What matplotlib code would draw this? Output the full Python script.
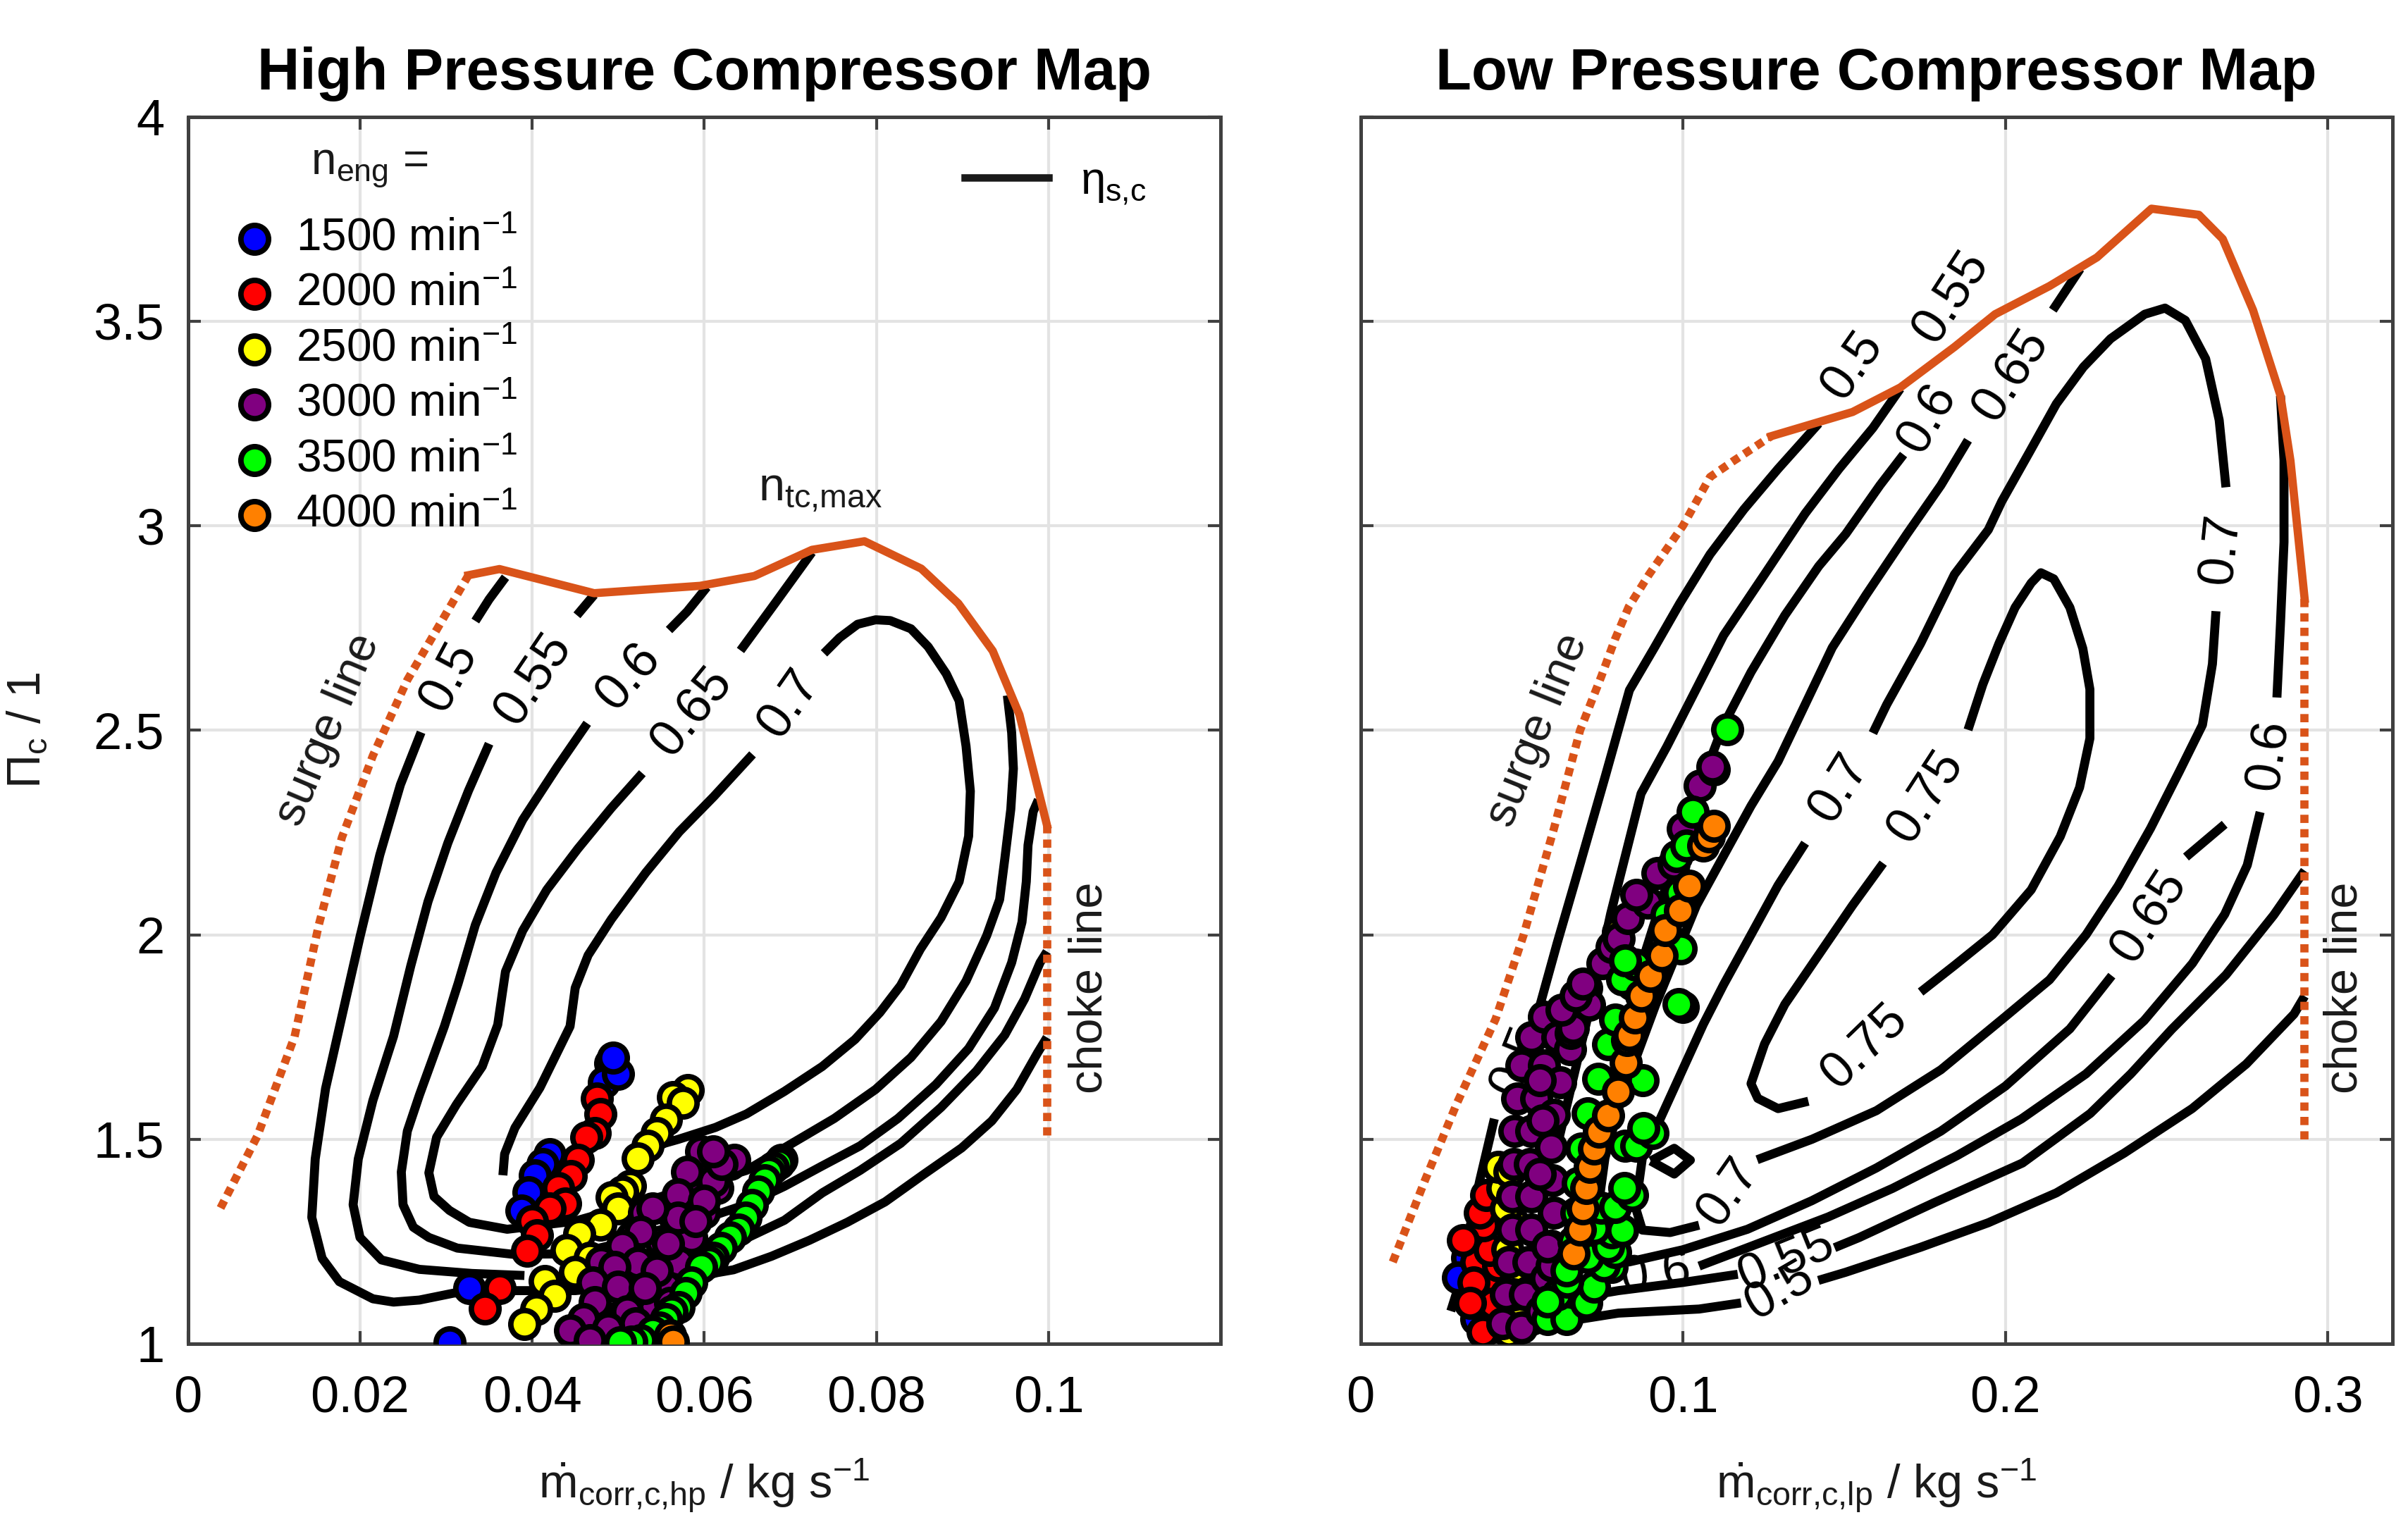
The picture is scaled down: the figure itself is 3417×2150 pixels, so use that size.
import matplotlib
matplotlib.use("Agg")
import matplotlib.pyplot as plt
from matplotlib.lines import Line2D

plt.rcParams['font.family'] = ['Liberation Sans', 'DejaVu Sans']
plt.rcParams['mathtext.fontset'] = 'custom'
plt.rcParams['mathtext.rm'] = 'Liberation Sans'
plt.rcParams['mathtext.it'] = 'Liberation Sans'
plt.rcParams['mathtext.bf'] = 'Liberation Sans:bold'

speeds = [1500, 2000, 2500, 3000, 3500, 4000]
speed_colors = ['#0000ff', '#ff0000', '#ffff00', '#800080', '#00ff00', '#ff8000']

yticks = [1, 1.5, 2, 2.5, 3, 3.5, 4]
yticklabels = ['1', '1.5', '2', '2.5', '3', '3.5', '4']

# ---------------- high pressure compressor ----------------
hp_xticks = [0, 0.02, 0.04, 0.06, 0.08, 0.1]
hp_xticklabels = ['0', '0.02', '0.04', '0.06', '0.08', '0.1']

hp_surge = [(0.0038, 1.332), (0.0081, 1.509), (0.0124, 1.751), (0.0152, 2.023),
            (0.0179, 2.238), (0.0215, 2.438), (0.0255, 2.623), (0.0326, 2.879)]
hp_top = [(0.0326, 2.879), (0.0362, 2.894), (0.0472, 2.835), (0.0595, 2.853),
          (0.0658, 2.877), (0.0725, 2.941), (0.0786, 2.962), (0.0852, 2.895),
          (0.0895, 2.810), (0.0935, 2.694), (0.0966, 2.538), (0.0998, 2.268)]
hp_choke = [(0.0998, 2.268), (0.0998, 1.50)]

hp_eta_050 = [
    [(0.0369, 2.874), (0.0350, 2.820), (0.0334, 2.767)],
    [(0.0271, 2.495), (0.0247, 2.367), (0.0223, 2.195), (0.0200, 1.995), (0.0180, 1.810),
     (0.0160, 1.624), (0.0148, 1.452), (0.0144, 1.309), (0.0156, 1.209), (0.0176, 1.152),
     (0.0215, 1.110), (0.0239, 1.102), (0.0269, 1.107), (0.0309, 1.124), (0.0360, 1.130),
     (0.0450, 1.130), (0.0550, 1.150), (0.0634, 1.181), (0.0678, 1.214), (0.0722, 1.253),
     (0.0766, 1.297), (0.0810, 1.347), (0.0854, 1.413), (0.0899, 1.479), (0.0934, 1.545),
     (0.0963, 1.622), (0.0987, 1.711), (0.0998, 1.749)],
]
hp_eta_055 = [
    [(0.0472, 2.831), (0.0452, 2.781)],
    [(0.0350, 2.467), (0.0326, 2.352), (0.0302, 2.224), (0.0279, 2.081), (0.0259, 1.924),
     (0.0239, 1.752), (0.0215, 1.595), (0.0198, 1.452), (0.0192, 1.340), (0.0200, 1.260),
     (0.0225, 1.205), (0.0269, 1.182), (0.0330, 1.172), (0.0391, 1.167)],
    [(0.0520, 1.210), (0.0580, 1.230), (0.0649, 1.258), (0.0693, 1.302), (0.0737, 1.369),
     (0.0781, 1.424), (0.0828, 1.490), (0.0875, 1.578), (0.0916, 1.667), (0.0949, 1.755),
     (0.0972, 1.843), (0.0990, 1.932), (0.0998, 1.959)],
]
hp_eta_060 = [
    [(0.0603, 2.850), (0.0580, 2.790), (0.0559, 2.745)],
    [(0.0464, 2.517), (0.0429, 2.410), (0.0389, 2.281), (0.0358, 2.152), (0.0334, 2.024),
     (0.0314, 1.881), (0.0298, 1.776), (0.0269, 1.608), (0.0255, 1.520), (0.0248, 1.420),
     (0.0250, 1.340), (0.0262, 1.285), (0.0280, 1.260), (0.0313, 1.234), (0.0377, 1.219),
     (0.0450, 1.220), (0.0550, 1.270), (0.0649, 1.341), (0.0693, 1.385), (0.0737, 1.435),
     (0.0781, 1.484), (0.0825, 1.551), (0.0869, 1.634), (0.0907, 1.722), (0.0937, 1.821),
     (0.0957, 1.932), (0.0969, 2.031), (0.0974, 2.130), (0.0976, 2.219), (0.0982, 2.301),
     (0.0988, 2.33)],
]
hp_eta_065 = [
    [(0.0725, 2.935), (0.0682, 2.810), (0.0642, 2.695)],
    [(0.0528, 2.395), (0.0492, 2.310), (0.0453, 2.210), (0.0417, 2.110), (0.0389, 2.010),
     (0.0369, 1.910), (0.0360, 1.780), (0.0342, 1.678), (0.0312, 1.585), (0.0289, 1.505),
     (0.0280, 1.418), (0.0286, 1.360), (0.0304, 1.326), (0.0327, 1.297), (0.0371, 1.280),
     (0.0450, 1.300), (0.0550, 1.360), (0.0649, 1.424), (0.0693, 1.479), (0.0751, 1.551),
     (0.0799, 1.622), (0.0840, 1.700), (0.0875, 1.788), (0.0904, 1.887), (0.0928, 1.998),
     (0.0943, 2.086), (0.0949, 2.185), (0.0956, 2.307), (0.0959, 2.406), (0.0957, 2.494),
     (0.0952, 2.585)],
]
hp_eta_070 = [
    [(0.0656, 2.441), (0.0611, 2.338), (0.0571, 2.252), (0.0532, 2.152), (0.0492, 2.038),
     (0.0465, 1.950), (0.0450, 1.870), (0.0444, 1.776), (0.0409, 1.626), (0.0380, 1.528),
     (0.0368, 1.464), (0.0366, 1.412)],
    [(0.0739, 2.688), (0.0757, 2.726), (0.0778, 2.759), (0.0799, 2.770), (0.0816, 2.768),
     (0.0840, 2.748), (0.0860, 2.704), (0.0881, 2.638), (0.0896, 2.572), (0.0904, 2.461),
     (0.0909, 2.351), (0.0907, 2.241), (0.0896, 2.130), (0.0875, 2.042), (0.0851, 1.965),
     (0.0828, 1.876), (0.0804, 1.810), (0.0775, 1.744), (0.0737, 1.678), (0.0693, 1.617),
     (0.0649, 1.562), (0.0613, 1.529), (0.0570, 1.500), (0.0520, 1.470)],
]
hp_eta_lines = [hp_eta_050, hp_eta_055, hp_eta_060, hp_eta_065, hp_eta_070]
hp_eta_labels = [('0.5', 0.0303, 2.631, 62), ('0.55', 0.0401, 2.624, 56),
                 ('0.6', 0.0512, 2.631, 49), ('0.65', 0.0585, 2.545, 51),
                 ('0.7', 0.0698, 2.565, 55)]

hp_1500 = [(0.0491, 1.686), (0.0483, 1.640), (0.0500, 1.660), (0.0494, 1.700), (0.0420, 1.464),
           (0.0412, 1.440), (0.0403, 1.412), (0.0396, 1.370), (0.0388, 1.326), (0.0327, 1.136),
           (0.0304, 1.003)]
hp_2000 = [(0.0475, 1.600), (0.0479, 1.562), (0.0473, 1.516), (0.0463, 1.505), (0.0453, 1.450),
           (0.0445, 1.410), (0.0430, 1.380), (0.0438, 1.343), (0.0420, 1.330), (0.0400, 1.300),
           (0.0406, 1.265), (0.0394, 1.228), (0.0362, 1.136), (0.0345, 1.087)]
hp_2500 = [(0.0581, 1.620), (0.0564, 1.603), (0.0575, 1.590), (0.0555, 1.548), (0.0545, 1.515),
           (0.0534, 1.484), (0.0523, 1.453), (0.0514, 1.386), (0.0505, 1.372), (0.0492, 1.358),
           (0.0500, 1.330), (0.0479, 1.291), (0.0455, 1.268), (0.0440, 1.230), (0.0467, 1.210),
           (0.0450, 1.176), (0.0415, 1.153), (0.0426, 1.118), (0.0405, 1.085), (0.0391, 1.049)]
hp_3000 = [(0.0455, 1.020), (0.0470, 1.080), (0.0485, 1.140), (0.0500, 1.200), (0.0515, 1.260),
           (0.0530, 1.320), (0.0490, 1.010), (0.0505, 1.070), (0.0520, 1.130), (0.0535, 1.190),
           (0.0550, 1.250), (0.0565, 1.310), (0.0580, 1.370), (0.0595, 1.430), (0.0525, 1.020),
           (0.0540, 1.080), (0.0555, 1.140), (0.0570, 1.200), (0.0585, 1.260), (0.0600, 1.320),
           (0.0615, 1.380), (0.0630, 1.440), (0.0635, 1.450), (0.0610, 1.398), (0.0596, 1.470),
           (0.0620, 1.440), (0.0610, 1.470), (0.0580, 1.420), (0.0569, 1.366), (0.0600, 1.350),
           (0.0569, 1.309), (0.0590, 1.300), (0.0540, 1.330), (0.0526, 1.274), (0.0558, 1.245),
           (0.0505, 1.240), (0.0480, 1.200), (0.0523, 1.199), (0.0545, 1.180), (0.0496, 1.187),
           (0.0470, 1.150), (0.0500, 1.140), (0.0531, 1.136), (0.0560, 1.100), (0.0473, 1.101),
           (0.0510, 1.080), (0.0460, 1.060), (0.0520, 1.050), (0.0488, 1.038), (0.0444, 1.032),
           (0.0545, 1.020), (0.0467, 1.009)]
hp_3500 = [(0.0690, 1.450), (0.0686, 1.441), (0.0680, 1.430), (0.0675, 1.420), (0.0670, 1.400),
           (0.0663, 1.372), (0.0655, 1.340), (0.0648, 1.309), (0.0640, 1.280), (0.0630, 1.260),
           (0.0619, 1.234), (0.0610, 1.210), (0.0605, 1.200), (0.0596, 1.187), (0.0585, 1.150),
           (0.0578, 1.124), (0.0570, 1.090), (0.0562, 1.080), (0.0555, 1.061), (0.0548, 1.040),
           (0.0540, 1.030), (0.0526, 1.009), (0.0515, 1.005), (0.0502, 1.003)]
hp_4000 = [(0.0560, 1.020), (0.0564, 1.006)]
hp_points = [hp_1500, hp_2000, hp_2500, hp_3000, hp_3500, hp_4000]

# ---------------- low pressure compressor ----------------
lp_xticks = [0, 0.1, 0.2, 0.3]
lp_xticklabels = ['0', '0.1', '0.2', '0.3']

lp_surge = [(0.0100, 1.200), (0.0200, 1.400), (0.0300, 1.590), (0.0419, 1.794), (0.0506, 2.000),
            (0.0600, 2.260), (0.0681, 2.500), (0.0747, 2.632), (0.0789, 2.722), (0.0832, 2.802),
            (0.0895, 2.881), (0.1000, 3.000), (0.1084, 3.119), (0.1158, 3.159), (0.1274, 3.219)]
lp_top = [(0.1274, 3.219), (0.1526, 3.278), (0.1674, 3.338), (0.1842, 3.437), (0.1968, 3.517),
          (0.2137, 3.586), (0.2284, 3.656), (0.2453, 3.775), (0.2600, 3.760), (0.2674, 3.701),
          (0.2768, 3.527), (0.2853, 3.318), (0.2884, 3.159), (0.2928, 2.821)]
lp_choke = [(0.2928, 2.821), (0.2928, 1.50)]

lp_eta_050 = [
    [(0.1421, 3.250), (0.1295, 3.139), (0.1189, 3.040), (0.1084, 2.930), (0.0990, 2.810),
     (0.0910, 2.700), (0.0834, 2.598), (0.0760, 2.390), (0.0680, 2.170), (0.0610, 1.980),
     (0.0557, 1.829)],
    [(0.0415, 1.550), (0.0370, 1.400), (0.0330, 1.250), (0.0300, 1.130), (0.0280, 1.080)],
    [(0.0400, 1.030), (0.0600, 1.050), (0.0800, 1.075), (0.1050, 1.085), (0.1180, 1.100)],
    [(0.1420, 1.155), (0.1505, 1.175), (0.1737, 1.236), (0.1947, 1.296), (0.2158, 1.369),
     (0.2368, 1.466), (0.2579, 1.575), (0.2747, 1.684), (0.2895, 1.806), (0.2928, 1.850)],
]
lp_eta_055 = [
    [(0.1674, 3.335), (0.1589, 3.239), (0.1484, 3.139), (0.1379, 3.030), (0.1253, 2.881),
     (0.1126, 2.732), (0.1042, 2.602), (0.0950, 2.460), (0.0870, 2.345), (0.0776, 2.052),
     (0.0720, 1.850), (0.0660, 1.650), (0.0600, 1.450)],
    [(0.0450, 1.080), (0.0650, 1.110), (0.0800, 1.130), (0.1000, 1.150), (0.1170, 1.170)],
    [(0.1470, 1.235), (0.1547, 1.260), (0.1779, 1.345), (0.2053, 1.442), (0.2263, 1.563),
     (0.2389, 1.660), (0.2516, 1.769), (0.2684, 1.902), (0.2832, 2.048), (0.2928, 2.157)],
]
lp_eta_060 = [
    [(0.1684, 3.174), (0.1611, 3.099), (0.1505, 2.980), (0.1421, 2.901), (0.1316, 2.781),
     (0.1211, 2.642), (0.1126, 2.513), (0.1063, 2.384), (0.1000, 2.250), (0.0940, 2.100),
     (0.0880, 1.950), (0.0820, 1.750), (0.0760, 1.550), (0.0700, 1.380)],
    [(0.0600, 1.120), (0.0780, 1.160)],
    [(0.1050, 1.190), (0.1250, 1.250), (0.1450, 1.310), (0.1650, 1.380), (0.1850, 1.460),
     (0.2050, 1.550), (0.2250, 1.660), (0.2430, 1.790), (0.2580, 1.930), (0.2680, 2.050),
     (0.2750, 2.170), (0.2790, 2.300)],
    [(0.2842, 2.580), (0.2853, 2.760), (0.2864, 2.960), (0.2864, 3.160), (0.2853, 3.318)],
]
lp_eta_065 = [
    [(0.2232, 3.628), (0.2147, 3.527)],
    [(0.1884, 3.209), (0.1800, 3.099), (0.1695, 2.980), (0.1568, 2.831), (0.1463, 2.702),
     (0.1379, 2.563), (0.1295, 2.424), (0.1211, 2.315), (0.1126, 2.193), (0.1042, 2.072),
     (0.0979, 1.951), (0.0916, 1.830), (0.0853, 1.696), (0.0800, 1.575), (0.0758, 1.454),
     (0.0737, 1.333), (0.0747, 1.236), (0.0832, 1.200), (0.1000, 1.230), (0.1200, 1.280),
     (0.1400, 1.350), (0.1600, 1.430), (0.1800, 1.520), (0.2000, 1.630), (0.2200, 1.770),
     (0.2330, 1.900)],
    [(0.2560, 2.190), (0.2680, 2.270)],
]
lp_eta_070 = [
    [(0.2684, 3.094), (0.2663, 3.258), (0.2621, 3.408), (0.2558, 3.502), (0.2495, 3.532),
     (0.2432, 3.517), (0.2326, 3.457), (0.2242, 3.388), (0.2158, 3.298), (0.2074, 3.179),
     (0.1989, 3.060), (0.1947, 2.990), (0.1842, 2.881), (0.1737, 2.712), (0.1632, 2.563),
     (0.1589, 2.493)],
    [(0.1379, 2.224), (0.1295, 2.121), (0.1211, 2.000), (0.1126, 1.878), (0.1063, 1.781),
     (0.1000, 1.672), (0.0937, 1.563), (0.0874, 1.454), (0.0853, 1.333), (0.0874, 1.278),
     (0.0960, 1.272), (0.1050, 1.290)],
    [(0.1230, 1.450), (0.1400, 1.500), (0.1600, 1.570), (0.1800, 1.670), (0.2000, 1.800),
     (0.2137, 1.890), (0.2250, 2.000), (0.2350, 2.120), (0.2450, 2.260), (0.2540, 2.400),
     (0.2611, 2.513), (0.2642, 2.662), (0.2653, 2.791)],
    [(0.0900, 1.447), (0.0973, 1.478), (0.1023, 1.449), (0.0973, 1.415), (0.0900, 1.447)],
]
lp_eta_075 = [
    [(0.1884, 2.501), (0.1930, 2.612), (0.1980, 2.712), (0.2030, 2.800), (0.2080, 2.860),
     (0.2110, 2.885), (0.2150, 2.870), (0.2200, 2.800), (0.2240, 2.700), (0.2262, 2.600),
     (0.2262, 2.480), (0.2230, 2.360), (0.2170, 2.240), (0.2080, 2.110), (0.1960, 2.000),
     (0.1842, 1.925), (0.1737, 1.860)],
    [(0.1389, 1.593), (0.1295, 1.575), (0.1232, 1.600), (0.1211, 1.636), (0.1253, 1.733),
     (0.1316, 1.830), (0.1421, 1.951), (0.1526, 2.072), (0.1621, 2.175)],
]
lp_eta_lines = [lp_eta_050, lp_eta_055, lp_eta_060, lp_eta_065, lp_eta_070, lp_eta_075]
lp_eta_labels = [('0.5', 0.1525, 3.391, 55), ('0.55', 0.1832, 3.559, 57),
                 ('0.6', 0.1757, 3.262, 60), ('0.65', 0.2016, 3.368, 57),
                 ('0.7', 0.2669, 2.943, 84), ('0.6', 0.2816, 2.440, 82),
                 ('0.7', 0.1484, 2.358, 58), ('0.75', 0.1753, 2.338, 57),
                 ('0.65', 0.2445, 2.045, 57), ('0.75', 0.1563, 1.727, 44),
                 ('0.7', 0.1140, 1.370, 55), ('0.55', 0.1320, 1.203, 22),
                 ('0.5', 0.1300, 1.128, 30), ('0.6', 0.0915, 1.170, 8),
                 ('0.5', 0.0486, 1.690, 68)]

lp_1500 = [(0.0360, 1.060), (0.0400, 1.040), (0.0330, 1.210), (0.0302, 1.162)]
lp_2000 = [(0.0380, 1.030), (0.0440, 1.050), (0.0395, 1.100), (0.0420, 1.140), (0.0360, 1.200),
           (0.0350, 1.150), (0.0412, 1.099), (0.0426, 1.191), (0.0400, 1.230), (0.0382, 1.289),
           (0.0370, 1.320), (0.0390, 1.363), (0.0317, 1.254), (0.0340, 1.100)]
lp_2500 = [(0.0460, 1.030), (0.0530, 1.060), (0.0500, 1.100), (0.0480, 1.180), (0.0557, 1.088),
           (0.0521, 1.128), (0.0455, 1.231), (0.0470, 1.300), (0.0450, 1.330), (0.0440, 1.380),
           (0.0426, 1.432), (0.0463, 1.421), (0.0475, 1.120), (0.0798, 2.006)]
lp_3000 = [(0.0440, 1.050), (0.0450, 1.120), (0.0460, 1.200), (0.0470, 1.280), (0.0470, 1.360),
           (0.0475, 1.440), (0.0478, 1.520), (0.0485, 1.600), (0.0500, 1.680), (0.0530, 1.750),
           (0.0570, 1.800), (0.0500, 1.040), (0.0510, 1.120), (0.0520, 1.200), (0.0530, 1.280),
           (0.0530, 1.360), (0.0525, 1.440), (0.0530, 1.520), (0.0545, 1.600), (0.0570, 1.680),
           (0.0610, 1.750), (0.0650, 1.820), (0.0700, 1.870), (0.0560, 1.080), (0.0575, 1.160),
           (0.0590, 1.240), (0.0600, 1.320), (0.0595, 1.400), (0.0590, 1.480), (0.0600, 1.560),
           (0.0620, 1.640), (0.0650, 1.720), (0.0620, 1.100), (0.0637, 1.157), (0.0594, 1.191),
           (0.0579, 1.237), (0.0557, 1.415), (0.0565, 1.547), (0.0557, 1.645), (0.0652, 1.760),
           (0.0659, 1.771), (0.0623, 1.817), (0.0710, 1.829), (0.0667, 1.851), (0.0690, 1.880),
           (0.0750, 1.930), (0.0780, 1.970), (0.0800, 1.990), (0.0830, 2.040), (0.0890, 2.079),
           (0.0856, 2.098), (0.0920, 2.150), (0.0971, 2.174), (0.1000, 2.260), (0.1053, 2.364),
           (0.1095, 2.404), (0.1091, 2.411)]
lp_3500 = [(0.0580, 1.060), (0.0640, 1.060), (0.0610, 1.120), (0.0700, 1.100), (0.0579, 1.103),
           (0.0725, 1.139), (0.0642, 1.151), (0.0640, 1.180), (0.0779, 1.187), (0.0754, 1.191),
           (0.0705, 1.212), (0.0789, 1.224), (0.0768, 1.237), (0.0660, 1.250), (0.0779, 1.272),
           (0.0811, 1.278), (0.0725, 1.283), (0.0670, 1.320), (0.0747, 1.333), (0.0790, 1.334),
           (0.0842, 1.363), (0.0819, 1.380), (0.0674, 1.393), (0.0684, 1.478), (0.0820, 1.484),
           (0.0856, 1.484), (0.0905, 1.515), (0.0878, 1.527), (0.0705, 1.563), (0.0874, 1.645),
           (0.0737, 1.648), (0.0768, 1.733), (0.0789, 1.793), (0.1000, 1.824), (0.0987, 1.831),
           (0.0842, 1.878), (0.0812, 1.891), (0.0853, 1.927), (0.0820, 1.937), (0.0994, 1.966),
           (0.0950, 2.050), (0.0989, 2.102), (0.0979, 2.193), (0.1011, 2.218), (0.1030, 2.300),
           (0.1137, 2.502)]
lp_4000 = [(0.0660, 1.220), (0.0680, 1.280), (0.0690, 1.330), (0.0700, 1.380), (0.0711, 1.432),
           (0.0725, 1.478), (0.0740, 1.518), (0.0769, 1.559), (0.0798, 1.616), (0.0823, 1.688),
           (0.0827, 1.742), (0.0834, 1.754), (0.0852, 1.797), (0.0871, 1.851), (0.0900, 1.900),
           (0.0933, 1.949), (0.0944, 2.012), (0.0990, 2.060), (0.1020, 2.120), (0.1063, 2.218),
           (0.1080, 2.240), (0.1095, 2.266)]
lp_points = [lp_1500, lp_2000, lp_2500, lp_3000, lp_3500, lp_4000]

ORANGE = '#d95319'
TXT = '#1a1a1a'


def xy(seg):
    return [p[0] for p in seg], [p[1] for p in seg]


def draw_map(ax, surge, top, choke, eta_lines, eta_labels, points, xmax, xticks, xticklabels,
             title, xlabel, show_ylabels):
    for lines in eta_lines:
        for seg in lines:
            xs, ys = xy(seg)
            ax.plot(xs, ys, color='k', lw=4.6, solid_capstyle='butt', zorder=2)
    for txt, lx, ly, rot in eta_labels:
        ax.text(lx, ly, txt, rotation=rot, rotation_mode='anchor', ha='center', va='center',
                fontsize=26, color='k', zorder=2)

    xs, ys = xy(surge)
    ax.plot(xs, ys, color=ORANGE, lw=4.2, ls=(0, (1, 0.75)), zorder=3)
    xs, ys = xy(top)
    ax.plot(xs, ys, color=ORANGE, lw=4.2, zorder=3)
    xs, ys = xy(choke)
    ax.plot(xs, ys, color=ORANGE, lw=4.2, ls=(0, (1, 0.75)), zorder=3)

    handles = []
    for spd, col, pts in zip(speeds, speed_colors, points):
        xs, ys = xy(pts)
        h = ax.scatter(xs, ys, s=200, c=col, edgecolors='k', linewidths=2.8, zorder=4,
                       label=f'{spd} min$^{{-1}}$')
        handles.append(h)

    ax.set_xlim(0, xmax)
    ax.set_ylim(1, 4)
    ax.set_xticks(xticks)
    ax.set_xticklabels(xticklabels)
    ax.set_yticks(yticks)
    if show_ylabels:
        ax.set_yticklabels(yticklabels)
    else:
        ax.set_yticklabels([])
    ax.grid(True, color='#e3e3e3', lw=1.5)
    ax.set_axisbelow(True)
    ax.tick_params(direction='in', length=6.5, width=1.5, top=True, right=True,
                   color='#404040', labelcolor='k', labelsize=26)
    ax.tick_params(axis='x', pad=16)
    ax.tick_params(axis='y', pad=12)
    for sp in ax.spines.values():
        sp.set_color('#404040')
        sp.set_linewidth(1.8)
    ax.set_title(title, fontsize=30, fontweight='bold', pad=14)
    ax.set_xlabel(xlabel, fontsize=24, color=TXT)
    ax.xaxis.set_label_coords(0.5, -0.092)
    return handles


fig = plt.figure(figsize=(17.085, 10.75), dpi=200)
ax1 = fig.add_axes([0.078, 0.113, 0.429, 0.810])
ax2 = fig.add_axes([0.565, 0.113, 0.4285, 0.810])

hp_handles = draw_map(ax1, hp_surge, hp_top, hp_choke, hp_eta_lines, hp_eta_labels, hp_points,
                      0.12, hp_xticks, hp_xticklabels, 'High Pressure Compressor Map',
                      r'$\dot{\mathrm{m}}_{\mathrm{corr{,}c{,}hp}}$ / kg s$^{-1}$', True)
draw_map(ax2, lp_surge, lp_top, lp_choke, lp_eta_lines, lp_eta_labels, lp_points,
         0.32, lp_xticks, lp_xticklabels, 'Low Pressure Compressor Map',
         r'$\dot{\mathrm{m}}_{\mathrm{corr{,}c{,}lp}}$ / kg s$^{-1}$', False)

ax1.set_ylabel(r'$\Pi_{\mathrm{c}}$ / 1', fontsize=24, color=TXT)
ax1.yaxis.set_label_coords(-0.134, 0.5)

# annotations
ax1.text(0.0163, 2.50, 'surge line', rotation=67, rotation_mode='anchor', ha='center',
         va='center', fontsize=24, color=TXT)
ax1.text(0.1048, 1.87, 'choke line', rotation=90, rotation_mode='anchor', ha='center',
         va='center', fontsize=24, color=TXT)
ax1.text(0.0735, 3.03, r'$\mathrm{n}_{\mathrm{tc{,}max}}$', ha='center', va='bottom',
         fontsize=24, color=TXT)
ax2.text(0.0550, 2.50, 'surge line', rotation=68, rotation_mode='anchor', ha='center',
         va='center', fontsize=24, color=TXT)
ax2.text(0.3053, 1.87, 'choke line', rotation=90, rotation_mode='anchor', ha='center',
         va='center', fontsize=24, color=TXT)

# legends
ax1.text(0.176, 0.958, r'$\mathrm{n}_{\mathrm{eng}}$ =', transform=ax1.transAxes,
         ha='center', va='center', fontsize=23, color=TXT, zorder=6)
leg1 = ax1.legend(handles=hp_handles, loc='upper left', bbox_to_anchor=(0.0424, 0.918),
                  frameon=False, fontsize=23, handletextpad=0.43, labelspacing=0.29,
                  borderpad=0.0, borderaxespad=0.0, handlelength=1.0, scatterpoints=1)
ax1.add_artist(leg1)
eta_handle = Line2D([], [], color='#1a1a1a', lw=3.8)
ax1.legend(handles=[eta_handle], labels=[r'$\eta_{\mathrm{s{,}c}}$'], loc='center left',
           bbox_to_anchor=(0.752, 0.946), frameon=False, fontsize=23, handlelength=1.87,
           handletextpad=0.7, borderpad=0.0, borderaxespad=0.0)

fig.savefig('out.png', dpi=200)
